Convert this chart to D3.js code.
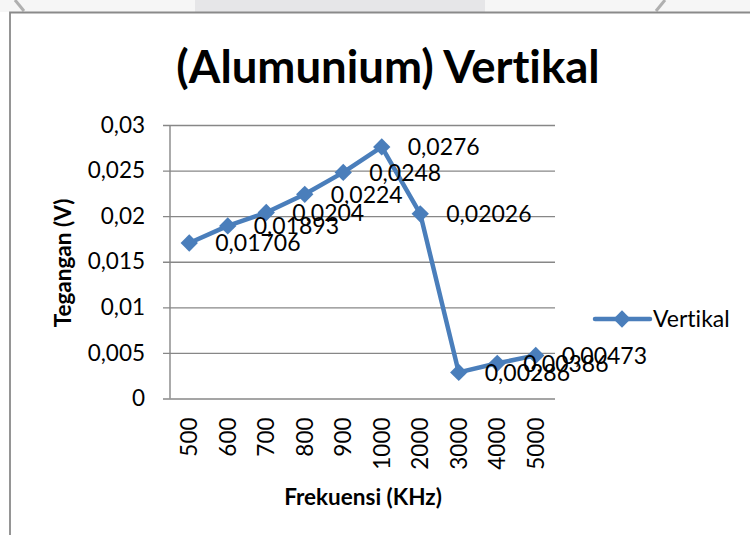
<!DOCTYPE html>
<html>

<head>
    <meta charset="utf-8">
    <style>
        body {
            margin: 0;
            background: #fff;
            font-family: Lato, 'Noto Sans', sans-serif;
        }

        svg {
            display: block;
            font-variant-ligatures: none;
        }

        .y .domain,
        .x .domain {
            display: none;
        }

        .y .tick line {
            stroke: #878787;
            stroke-width: 1.4px;
        }

        .y .tick text,
        .x .tick text {
            font-size: 22.5px;
            fill: #000;
            font-family: Lato, sans-serif;
        }
    </style>
</head>

<body>
    <svg width="750" height="535"></svg>

    <script src="https://cdn.jsdelivr.net/npm/d3@7/dist/d3.min.js"></script>
    <script>
        // data
        let categories = ["500", "600", "700", "800", "900", "1000", "2000", "3000", "4000", "5000"]
        let values = [0.01706, 0.01893, 0.0204, 0.0224, 0.0248, 0.0276, 0.02026, 0.00286, 0.00386, 0.00473]
        let yTicks = [0, 0.005, 0.01, 0.015, 0.02, 0.025, 0.03]
        let seriesName = "Vertikal"

        let blue = "#4a7ebb"
        let comma = v => String(v).replace(".", ",")

        let svg = d3.select("svg")

        // window chrome at the top
        svg.append("rect").attr("x", 0).attr("y", 0).attr("width", 750).attr("height", 12).attr("fill", "#f6f6f6")
        svg.append("rect").attr("x", 195).attr("y", 0).attr("width", 290).attr("height", 12).attr("fill", "#e6e6e8")
        svg.append("line").attr("x1", 15).attr("y1", 0).attr("x2", 24).attr("y2", 11)
            .attr("stroke", "#b0b0b0").attr("stroke-width", 3)
        svg.append("line").attr("x1", 665).attr("y1", 0).attr("x2", 656).attr("y2", 11)
            .attr("stroke", "#b0b0b0").attr("stroke-width", 3)

        // chart frame
        svg.append("path")
            .attr("d", "M10,535 V12.5 H750")
            .attr("fill", "none")
            .attr("stroke", "#8a8a8a")
            .attr("stroke-width", 1.8)

        let plot = { left: 170, right: 555, top: 125, bottom: 398.5 }

        let x = d3.scaleBand()
            .domain(categories)
            .range([plot.left, plot.right])

        let y = d3.scaleLinear()
            .domain([0, 0.03])
            .range([plot.bottom, plot.top])

        // gridlines + y labels
        let yAxisSettings = d3.axisLeft(y)
            .tickValues(yTicks)
            .tickSize(-(plot.right - 163))
            .tickPadding(18)
            .tickFormat(comma)

        svg.append("g")
            .attr("class", "y axis")
            .attr("transform", "translate(163,0)")
            .call(yAxisSettings)

        // vertical axis line
        svg.append("line")
            .attr("x1", plot.left).attr("x2", plot.left)
            .attr("y1", plot.top).attr("y2", plot.bottom)
            .attr("stroke", "#878787")
            .attr("stroke-width", 1.4)

        // x labels, rotated
        let xAxisSettings = d3.axisBottom(x)
            .tickSize(0)
            .tickPadding(0)

        let xAxisTicks = svg.append("g")
            .attr("class", "x axis")
            .attr("transform", `translate(0,${plot.bottom})`)
            .call(xAxisSettings)

        xAxisTicks.selectAll("text")
            .attr("transform", "rotate(-90)")
            .attr("text-anchor", "end")
            .attr("x", -19)
            .attr("y", 0)
            .attr("dy", "0.36em")

        let data = categories.map((c, i) => ({ cat: c, value: values[i] }))
        let cx = d => x(d.cat) + x.bandwidth() / 2

        let line = d3.line()
            .x(cx)
            .y(d => y(d.value))

        svg.append("path")
            .datum(data)
            .attr("d", line)
            .attr("fill", "none")
            .attr("stroke", blue)
            .attr("stroke-width", 4.5)
            .attr("stroke-linejoin", "round")
            .attr("stroke-linecap", "round")

        let diamond = d3.symbol().type(d3.symbolSquare).size(150)

        svg.append("g")
            .selectAll("path")
            .data(data)
            .join("path")
            .attr("d", diamond)
            .attr("transform", d => `translate(${cx(d)},${y(d.value)}) rotate(45)`)
            .attr("fill", blue)

        // data labels
        svg.append("g")
            .selectAll("text")
            .data(data)
            .join("text")
            .attr("x", d => cx(d) + 26)
            .attr("y", d => y(d.value))
            .attr("dy", "0.36em")
            .attr("font-size", 23)
            .attr("fill", "#000")
            .text(d => comma(d.value))

        // title and axis titles
        svg.append("text")
            .attr("x", 388)
            .attr("y", 83)
            .attr("text-anchor", "middle")
            .attr("font-size", 45.5)
            .attr("font-weight", "bold")
            .text("(Alumunium) Vertikal")

        svg.append("text")
            .attr("transform", "translate(63,263) rotate(-90)")
            .attr("text-anchor", "middle")
            .attr("dy", "0.36em")
            .attr("font-size", 22.5)
            .attr("font-weight", "bold")
            .text("Tegangan (V)")

        svg.append("text")
            .attr("x", 363)
            .attr("y", 497)
            .attr("text-anchor", "middle")
            .attr("dy", "0.36em")
            .attr("font-size", 22.5)
            .attr("font-weight", "bold")
            .text("Frekuensi (KHz)")

        // legend
        let legend = svg.append("g").attr("transform", "translate(595,319)")
        legend.append("line")
            .attr("x1", 0).attr("x2", 55)
            .attr("stroke", blue).attr("stroke-width", 4.5).attr("stroke-linecap", "round")
        legend.append("path")
            .attr("d", diamond)
            .attr("transform", "translate(27,0) rotate(45)")
            .attr("fill", blue)
        legend.append("text")
            .attr("x", 58)
            .attr("dy", "0.36em")
            .attr("font-size", 23)
            .text(seriesName)
    </script>
</body>

</html>
